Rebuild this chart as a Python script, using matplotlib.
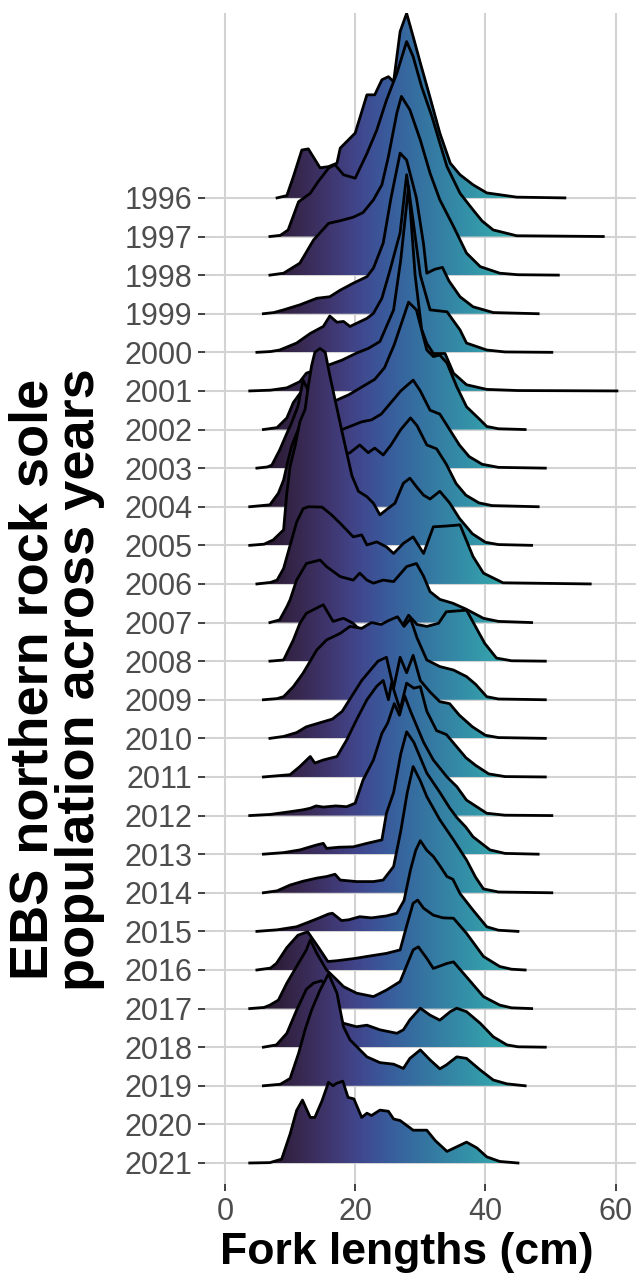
import numpy as np
import matplotlib.pyplot as plt
from matplotlib.patches import Polygon
import seaborn as sns

plt.rcParams['font.family'] = ['Liberation Sans', 'DejaVu Sans']

# year labels on the y axis (2020 has no survey data)
years = list(range(1996, 2022))

# fork length (cm), scaled density (in ridge-row units)
r1996 = [(8.0,0),(9.5,0.06),(10.5,0.55),(11.8,1.24),(12.8,1.27),(14.6,0.78),(15.9,0.81),(17.2,0.9),(17.7,1.29),(20.0,1.68),(21.8,2.67),(23.0,2.67),(24.1,3.06),(25.1,3.14),(25.9,3.01),(26.9,4.31),(27.9,4.78),(28.9,4.18),(30.0,3.5),(31.5,2.6),(33.0,1.68),(34.6,0.9),(36.1,0.6),(38.1,0.34),(40.2,0.13),(44.8,0.02),(52.2,0)]
r1997 = [(6.9,0),(8.5,0.03),(9.7,0.17),(11.3,0.9),(13.1,1.12),(14.3,1.42),(15.9,1.77),(16.9,1.86),(18.2,1.6),(20.0,1.51),(21.8,2.15),(23.3,2.75),(24.8,3.53),(26.4,4.23),(27.9,5.05),(28.9,4.66),(30.2,3.88),(31.8,3.1),(33.0,2.42),(34.1,1.81),(36.1,1.12),(38.1,0.69),(39.5,0.4),(41.2,0.17),(44.8,0.02),(58.1,0)]
r1998 = [(6.9,0),(9.0,0.05),(11.5,0.31),(13.6,0.91),(15.9,1.34),(17.7,1.41),(19.7,1.5),(21.2,1.62),(22.8,1.95),(24.1,2.34),(25.1,3.07),(26.4,4.2),(27.1,4.63),(28.4,4.28),(30.0,3.5),(31.5,2.64),(33.0,1.95),(35.1,1.26),(37.1,0.57),(39.2,0.22),(42.2,0.05),(45.0,0.01),(51.2,0)]
r1999 = [(5.9,0),(7.5,0.03),(9.0,0.1),(11.5,0.23),(14.1,0.4),(16.1,0.44),(17.7,0.61),(19.7,0.79),(21.8,0.96),(22.8,1.18),(24.3,1.83),(25.5,3.0),(26.9,4.16),(27.9,3.98),(29.4,3.0),(30.5,1.8),(31.0,1.05),(32.2,1.15),(33.4,1.2),(34.4,0.85),(36.1,0.44),(38.1,0.18),(41.2,0.03),(48.1,0)]
r2000 = [(4.9,0),(7.0,0.02),(8.4,0.06),(11.0,0.24),(13.1,0.49),(15.1,0.67),(16.1,0.94),(17.2,0.78),(18.2,0.8),(19.2,0.67),(20.2,0.75),(21.8,0.88),(22.8,1.01),(24.1,1.4),(25.3,2.1),(26.9,3.1),(27.9,4.6),(28.9,3.4),(30.0,2.0),(31.5,1.1),(34.1,1.05),(36.1,0.58),(37.1,0.24),(40.2,0.06),(43.0,0.01),(50.2,0)]
r2001 = [(3.8,0),(7.0,0.02),(9.5,0.08),(11.5,0.24),(12.5,0.46),(14.0,0.55),(15.9,0.67),(18.0,0.8),(20.2,0.98),(22.0,1.1),(23.8,1.28),(24.8,1.67),(25.9,2.1),(27.0,3.4),(28.2,5.3),(29.2,3.0),(30.2,1.6),(31.0,1.23),(32.0,0.97),(33.8,0.97),(35.1,0.46),(37.1,0.16),(40.2,0.04),(45.0,0.01),(60.2,0)]
r2002 = [(5.9,0),(8.0,0.05),(9.5,0.3),(10.5,0.7),(11.8,1.0),(12.8,0.95),(14.0,0.7),(15.5,0.65),(17.0,0.75),(19.0,0.9),(21.0,1.1),(23.0,1.3),(24.5,1.6),(26.0,2.2),(27.2,2.8),(28.2,3.3),(29.4,3.1),(31.0,2.06),(32.0,1.89),(33.0,1.93),(34.1,1.72),(35.6,1.11),(37.1,0.59),(39.2,0.25),(40.2,0.08),(42.0,0.02),(46.1,0)]
r2003 = [(4.9,0),(6.5,0.03),(7.2,0.08),(8.4,0.47),(9.5,0.9),(10.2,1.16),(11.2,1.6),(12.0,2.28),(12.8,2.0),(13.8,1.4),(15.0,1.0),(16.5,0.9),(18.0,1.0),(19.5,1.1),(21.0,1.2),(22.5,1.25),(24.0,1.4),(25.5,1.7),(27.0,2.0),(28.9,2.28),(30.0,2.0),(31.5,1.5),(33.0,1.4),(34.5,1.0),(36.0,0.6),(37.5,0.3),(39.5,0.1),(42.0,0.02),(49.2,0)]
r2004 = [(3.8,0),(6.9,0.05),(8.2,0.35),(9.0,0.69),(9.7,1.21),(10.2,1.55),(11.0,1.9),(12.0,2.3),(13.0,2.3),(14.0,2.0),(15.0,1.7),(16.5,1.4),(18.0,1.35),(19.2,1.4),(20.7,1.6),(22.0,1.4),(23.0,1.52),(24.3,1.34),(25.5,1.6),(27.0,2.0),(28.5,2.3),(29.5,2.1),(31.0,1.6),(32.5,1.5),(34.0,1.1),(35.5,0.6),(37.0,0.3),(39.0,0.1),(41.0,0.03),(48.1,0)]
r2005 = [(3.8,0),(6.0,0.03),(7.4,0.14),(9.0,0.4),(9.5,1.36),(10.0,2.05),(10.8,2.6),(11.5,3.2),(12.3,3.52),(12.8,4.13),(13.3,4.65),(13.8,5.0),(14.6,5.1),(15.4,5.0),(16.1,4.4),(17.0,3.7),(17.9,3.0),(18.7,2.4),(19.5,1.8),(20.5,1.4),(21.8,1.26),(22.8,1.09),(23.8,0.79),(25.0,0.95),(26.1,1.09),(27.4,1.61),(28.4,1.74),(29.5,1.5),(30.5,1.3),(31.5,1.2),(33.0,1.4),(34.5,1.1),(36.0,0.7),(38.0,0.3),(40.0,0.08),(42.0,0.02),(47.1,0)]
r2006 = [(4.9,0),(7.0,0.04),(8.0,0.1),(9.0,0.4),(10.0,1.0),(11.0,1.6),(12.0,1.95),(12.8,2.0),(14.9,1.99),(16.3,1.8),(17.7,1.57),(19.7,1.22),(21.0,1.27),(21.8,1.01),(23.3,1.09),(24.8,0.96),(25.9,0.79),(27.4,1.05),(28.9,1.22),(30.5,0.79),(32.0,1.48),(34.0,1.5),(36.1,1.53),(38.1,0.71),(39.7,0.28),(42.7,0.03),(56.1,0)]
r2007 = [(6.9,0),(8.4,0.07),(9.5,0.41),(10.0,0.59),(11.0,1.1),(12.5,1.53),(14.6,1.62),(15.6,1.45),(17.7,1.19),(19.7,1.1),(20.7,1.28),(21.8,1.1),(22.8,1.02),(24.3,1.1),(25.9,1.06),(27.9,1.45),(29.4,1.53),(30.5,1.2),(31.5,0.8),(33.0,0.6),(35.0,0.5),(37.0,0.35),(39.7,0.11),(42.0,0.03),(47.1,0)]
r2008 = [(6.9,0),(9.0,0.03),(10.5,0.55),(11.5,0.98),(12.5,1.24),(14.6,1.42),(15.1,1.46),(16.6,1.03),(18.2,1.11),(19.7,0.98),(20.7,0.81),(22.8,0.89),(24.1,0.72),(25.1,0.94),(26.9,0.81),(28.2,1.19),(29.5,0.95),(31.0,0.9),(32.8,0.98),(34.0,1.28),(37.1,1.32),(39.9,0.46),(41.7,0.08),(44.0,0.01),(49.2,0)]
r2009 = [(5.9,0),(8.0,0.03),(9.0,0.08),(10.5,0.34),(12.0,0.69),(14.1,1.29),(15.6,1.55),(17.7,1.72),(19.2,1.9),(21.0,1.85),(22.5,2.0),(24.0,1.95),(25.1,2.05),(26.5,2.15),(27.5,1.9),(28.5,2.1),(29.5,1.6),(31.0,1.03),(33.0,0.86),(35.1,0.77),(37.1,0.6),(38.5,0.4),(40.2,0.08),(42.0,0.02),(49.2,0)]
r2010 = [(6.9,0),(9.0,0.05),(11.0,0.15),(12.5,0.3),(14.5,0.4),(16.5,0.5),(18.0,0.7),(19.5,1.1),(21.0,1.5),(22.5,1.8),(23.5,2.0),(24.8,2.1),(25.9,1.3),(26.9,2.1),(27.9,1.7),(28.9,2.15),(30.0,1.5),(31.5,1.2),(33.0,0.95),(34.5,0.9),(36.0,0.6),(38.0,0.3),(40.0,0.08),(42.0,0.02),(49.2,0)]
r2011 = [(5.9,0),(8.0,0.03),(10.0,0.06),(11.5,0.27),(13.1,0.53),(13.8,0.36),(15.1,0.44),(17.2,0.53),(18.7,0.96),(20.2,1.48),(21.8,2.0),(23.3,2.35),(24.3,2.5),(25.1,2.0),(25.6,2.43),(26.9,1.74),(27.9,2.43),(29.0,2.3),(30.0,2.34),(31.0,1.7),(32.5,1.2),(34.0,1.1),(35.5,0.8),(37.0,0.5),(38.5,0.3),(40.5,0.08),(43.0,0.01),(49.2,0)]
r2012 = [(3.8,0),(7.0,0.03),(10.0,0.1),(12.0,0.15),(13.1,0.19),(14.0,0.25),(15.1,0.22),(17.0,0.25),(18.7,0.23),(20.0,0.32),(21.2,0.92),(22.8,1.44),(24.1,2.13),(25.0,2.4),(26.0,2.9),(26.8,2.6),(27.6,3.1),(28.5,2.7),(29.5,2.3),(30.5,1.9),(32.0,1.44),(34.1,1.0),(35.6,0.75),(37.1,0.4),(40.2,0.06),(43.0,0.01),(50.2,0)]
r2013 = [(5.9,0),(9.0,0.04),(11.5,0.11),(14.1,0.24),(15.1,0.28),(15.6,0.15),(17.5,0.18),(19.7,0.19),(21.8,0.28),(24.1,0.37),(24.8,1.06),(25.9,1.6),(27.0,2.6),(27.9,3.17),(29.0,2.9),(30.0,2.5),(31.0,2.1),(32.0,1.85),(33.0,1.6),(34.5,1.2),(35.6,0.95),(37.0,0.7),(38.1,0.45),(40.7,0.11),(43.0,0.02),(48.1,0)]
r2014 = [(5.9,0),(8.0,0.05),(10.0,0.2),(12.0,0.3),(14.1,0.38),(15.6,0.42),(16.9,0.48),(17.7,0.33),(20.2,0.29),(22.8,0.29),(24.3,0.33),(25.9,0.68),(27.0,1.6),(28.0,2.6),(28.9,3.27),(30.0,2.9),(31.0,2.49),(33.0,1.89),(35.1,1.37),(37.1,0.85),(38.5,0.4),(39.7,0.1),(42.0,0.02),(50.2,0)]
r2015 = [(4.9,0),(8.0,0.04),(11.0,0.12),(13.0,0.25),(14.5,0.35),(15.9,0.45),(16.5,0.47),(17.9,0.28),(19.0,0.3),(20.7,0.38),(22.5,0.35),(24.8,0.4),(26.4,0.47),(27.5,0.8),(28.5,1.6),(29.3,2.1),(30.0,2.35),(31.0,2.1),(32.0,1.94),(33.0,1.7),(34.1,1.42),(35.0,1.35),(36.1,0.98),(38.1,0.55),(40.2,0.12),(42.0,0.03),(45.0,0)]
r2016 = [(4.9,0),(7.0,0.05),(7.9,0.17),(9.5,0.58),(11.2,0.9),(12.7,0.99),(14.3,0.6),(15.8,0.22),(17.2,0.24),(20.0,0.3),(21.8,0.35),(24.8,0.43),(26.9,0.52),(28.0,1.2),(28.9,1.73),(29.6,1.81),(30.5,1.6),(32.0,1.42),(33.5,1.35),(35.1,1.34),(37.1,0.95),(39.7,0.35),(42.2,0.09),(44.0,0.02),(46.1,0)]
r2017 = [(3.8,0),(6.0,0.03),(6.9,0.09),(8.2,0.22),(9.5,0.66),(11.0,1.09),(12.5,1.52),(13.1,1.78),(14.1,1.43),(15.6,1.0),(17.2,0.74),(18.2,0.57),(20.2,0.4),(22.8,0.31),(24.8,0.48),(26.9,0.7),(28.9,1.52),(29.7,1.6),(31.0,1.3),(32.0,1.04),(34.1,1.17),(35.1,1.21),(37.1,0.82),(39.7,0.31),(42.2,0.09),(44.0,0.02),(47.1,0)]
r2018 = [(5.9,0),(7.9,0.06),(9.5,0.36),(11.0,0.96),(12.5,1.5),(13.6,1.66),(14.8,1.72),(15.6,1.6),(16.5,1.2),(17.3,0.8),(18.2,0.62),(20.2,0.53),(21.8,0.57),(23.8,0.45),(26.4,0.36),(27.4,0.45),(28.4,0.71),(30.0,1.01),(31.5,0.83),(33.0,0.7),(34.6,0.92),(35.6,1.01),(37.1,0.92),(39.2,0.62),(41.2,0.27),(43.3,0.06),(45.0,0.01),(49.2,0)]
r2019 = [(5.9,0),(8.5,0.04),(10.0,0.19),(11.3,0.84),(12.3,1.45),(13.3,1.96),(14.6,2.48),(15.9,2.9),(17.2,2.4),(17.7,1.96),(18.2,1.53),(19.2,1.19),(21.8,0.75),(23.8,0.6),(25.9,0.56),(27.4,0.45),(28.4,0.71),(30.0,0.93),(31.5,0.67),(33.0,0.44),(34.0,0.54),(35.6,0.75),(37.1,0.71),(39.2,0.41),(41.2,0.15),(43.3,0.05),(46.1,0)]
r2021 = [(3.8,0),(6.9,0.01),(8.7,0.1),(10.0,0.75),(11.0,1.36),(11.9,1.63),(13.1,1.18),(13.8,1.18),(14.9,1.61),(15.9,2.09),(16.6,2.0),(17.1,2.06),(18.1,2.12),(18.9,1.7),(19.8,1.66),(21.0,1.18),(21.8,1.29),(22.5,1.23),(23.8,1.37),(25.1,1.34),(25.9,1.14),(26.9,1.1),(28.9,0.85),(31.0,0.85),(32.3,0.58),(34.1,0.3),(35.6,0.42),(37.1,0.54),(38.7,0.39),(40.2,0.16),(42.2,0.04),(45.0,0)]

ridges = {1996: r1996, 1997: r1997, 1998: r1998, 1999: r1999, 2000: r2000,
          2001: r2001, 2002: r2002, 2003: r2003, 2004: r2004, 2005: r2005,
          2006: r2006, 2007: r2007, 2008: r2008, 2009: r2009, 2010: r2010,
          2011: r2011, 2012: r2012, 2013: r2013, 2014: r2014, 2015: r2015,
          2016: r2016, 2017: r2017, 2018: r2018, 2019: r2019, 2021: r2021}

xlo, xhi = -3.07, 63.13
fig = plt.figure(figsize=(6.43, 12.82), dpi=100)
ax = fig.add_axes([205/643, 1-1184/1282, (636-205)/643, (1184-13)/1282])

cmap = sns.color_palette("mako", as_cmap=True)
gx = np.linspace(xlo, xhi, 600)
grad = cmap(np.clip(0.02 + 0.015*gx, 0, 1))[np.newaxis, :, :3]

z = 2
for yr in years:
    if yr not in ridges:
        continue
    base = 2021 - yr
    pts = np.array(ridges[yr])
    xs, hs = pts[:, 0], base + pts[:, 1]
    poly = Polygon(np.column_stack([np.r_[xs, xs[-1], xs[0]], np.r_[hs, base, base]]),
                   closed=True, facecolor='none', edgecolor='none')
    ax.add_patch(poly)
    im = ax.imshow(grad, extent=(xlo, xhi, base, hs.max()), aspect='auto',
                   origin='lower', zorder=z, interpolation='bilinear')
    im.set_clip_path(poly)
    ax.plot(xs, hs, color='black', lw=2.0, zorder=z + 0.5, solid_joinstyle='round')
    z += 1

ax.set_xlim(xlo, xhi)
ax.set_ylim(-0.544, 29.79)
ax.set_xticks([0, 20, 40, 60])
ax.set_yticks([2021 - y for y in years])
ax.set_yticklabels([str(y) for y in years])
ax.grid(True, color='#d3d3d3', lw=1.5, zorder=0)
ax.set_axisbelow(True)
for s in ax.spines.values():
    s.set_visible(False)
ax.tick_params(axis='both', length=5, width=1.3, color='#333333',
               labelcolor='#4d4d4d', labelsize=22, pad=4)

fig.text(0.088, 0.47, 'EBS northern rock sole\npopulation across years', rotation=90,
         ha='center', va='center', fontsize=39, fontweight='bold', linespacing=0.92)
fig.text(0.633, 0.023, 'Fork lengths (cm)', ha='center', va='center',
         fontsize=32, fontweight='bold')

fig.savefig('out.png', dpi=100)
